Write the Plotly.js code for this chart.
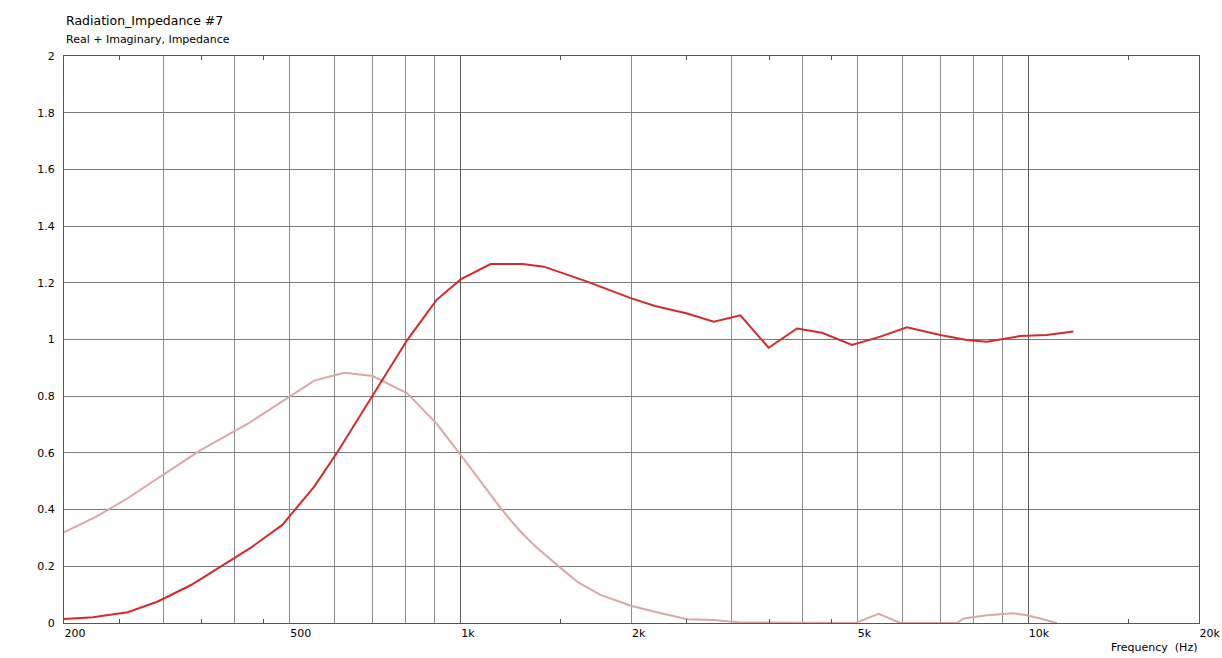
<!DOCTYPE html>
<html>
<head>
<meta charset="utf-8">
<script src="https://cdn.plot.ly/plotly-3.0.1.min.js"></script>
<style>html,body{margin:0;padding:0;background:#fff;}#chart{width:1222px;height:658px;}</style>
</head>
<body>
<div id="chart"></div>
<script>
// Real part (Hz, value)
const freqReal = [200, 225, 259, 292, 335, 378, 427, 485, 552, 607, 700, 805, 906, 1000, 1129, 1285, 1402, 1671, 2000, 2200, 2507, 2793, 3111, 3489, 3914, 4333, 4893, 5489, 6115, 7000, 7798, 8455, 9680, 10784, 12013];
const valReal = [0.014, 0.02, 0.038, 0.075, 0.134, 0.2, 0.266, 0.346, 0.481, 0.604, 0.804, 0.998, 1.139, 1.212, 1.266, 1.266, 1.257, 1.204, 1.145, 1.118, 1.092, 1.063, 1.085, 0.971, 1.039, 1.024, 0.981, 1.01, 1.043, 1.016, 0.998, 0.992, 1.012, 1.016, 1.028];
// Imaginary part (Hz, value)
const freqImag = [200, 228, 259, 300, 348, 421, 500, 552, 623, 700, 805, 906, 1000, 1085, 1176, 1267, 1346, 1478, 1604, 1763, 2000, 2236, 2507, 2793, 3111, 4960, 5453, 5953, 7489, 7700, 8455, 9419, 9900, 10497, 11234];
const valImag = [0.32, 0.375, 0.44, 0.526, 0.61, 0.702, 0.8, 0.855, 0.883, 0.871, 0.81, 0.704, 0.593, 0.498, 0.405, 0.328, 0.275, 0.205, 0.146, 0.099, 0.06, 0.036, 0.013, 0.011, 0.002, 0, 0.032, 0, 0, 0.016, 0.027, 0.034, 0.028, 0.016, 0];

// Axis ticks
const xGridVals = [200, 300, 400, 500, 600, 700, 800, 900, 1000, 2000, 3000, 4000, 5000, 6000, 7000, 8000, 9000, 10000, 20000];
const xGridText = ['200', '', '', '500', '', '', '', '', '1k', '2k', '', '', '5k', '', '', '', '', '10k', '20k'];
const xDecadeVals = [1000, 10000];
const xMinorVals = [250, 350, 450, 1500, 2500, 3500, 4500, 15000];
const yTickVals = [0, 0.2, 0.4, 0.6, 0.8, 1, 1.2, 1.4, 1.6, 1.8, 2];
const yTickText = ['0', '0.2', '0.4', '0.6', '0.8', '1', '1.2', '1.4', '1.6', '1.8', '2'];

const font = {family: 'DejaVu Sans, Verdana, sans-serif', size: 11, color: '#000'};

const traces = [
  {x: freqImag, y: valImag, type: 'scatter', mode: 'lines', name: 'Imaginary',
   line: {color: '#dba7a7', width: 2}, hoverinfo: 'skip'},
  {x: freqReal, y: valReal, type: 'scatter', mode: 'lines', name: 'Real',
   line: {color: '#d42a2a', width: 2}, hoverinfo: 'skip'}
];

const xr = [Math.log10(200), Math.log10(20000)];

const layout = {
  width: 1222, height: 658,
  margin: {l: 64, r: 23, t: 56, b: 35},
  paper_bgcolor: '#fff', plot_bgcolor: '#fff',
  showlegend: false,
  font: font,
  xaxis: {
    type: 'log', range: xr,
    tickmode: 'array', tickvals: xGridVals, ticktext: xGridText,
    ticks: '', showgrid: true, gridcolor: '#8e8e8e', gridwidth: 1,
    ticklabelposition: 'outside right',
    tickfont: font,
    showline: true, linecolor: '#555', linewidth: 1, mirror: 'ticks',
    zeroline: false,
    minor: {tickmode: 'array', tickvals: xMinorVals, ticks: 'inside', ticklen: 4, tickcolor: '#555', showgrid: false}
  },
  xaxis2: {
    type: 'log', range: xr, overlaying: 'x',
    tickmode: 'array', tickvals: xDecadeVals,
    showticklabels: false, ticks: '', showgrid: true, gridcolor: '#5a5a5a', gridwidth: 1,
    showline: false, zeroline: false
  },
  yaxis: {
    range: [0, 2], tickmode: 'array', tickvals: yTickVals, ticktext: yTickText,
    ticks: '', showgrid: true, gridcolor: '#7a7a7a', gridwidth: 1,
    tickfont: font, ticklabelstandoff: 6,
    showline: true, linecolor: '#555', linewidth: 1, mirror: true,
    zeroline: false
  },
  annotations: [
    {text: 'Radiation_Impedance #7', xref: 'paper', yref: 'paper', x: 0, y: (623 - 20) / 567,
     xanchor: 'left', yanchor: 'middle', showarrow: false, font: {family: font.family, size: 12.5, color: '#000'}},
    {text: 'Real + Imaginary, Impedance', xref: 'paper', yref: 'paper', x: 0, y: (623 - 39) / 567,
     xanchor: 'left', yanchor: 'middle', showarrow: false, font: {family: font.family, size: 11, color: '#000'}},
    {text: 'Frequency&nbsp;&nbsp;(Hz)', xref: 'paper', yref: 'paper', x: 1, y: (623 - 647) / 567,
     xanchor: 'right', yanchor: 'middle', showarrow: false, font: font}
  ]
};

// dummy trace to activate xaxis2 gridlines
traces.push({x: [200], y: [null], xaxis: 'x2', yaxis: 'y', type: 'scatter', mode: 'lines', hoverinfo: 'skip', showlegend: false});

Plotly.newPlot('chart', traces, layout, {staticPlot: true, displayModeBar: false});
</script>
</body>
</html>
